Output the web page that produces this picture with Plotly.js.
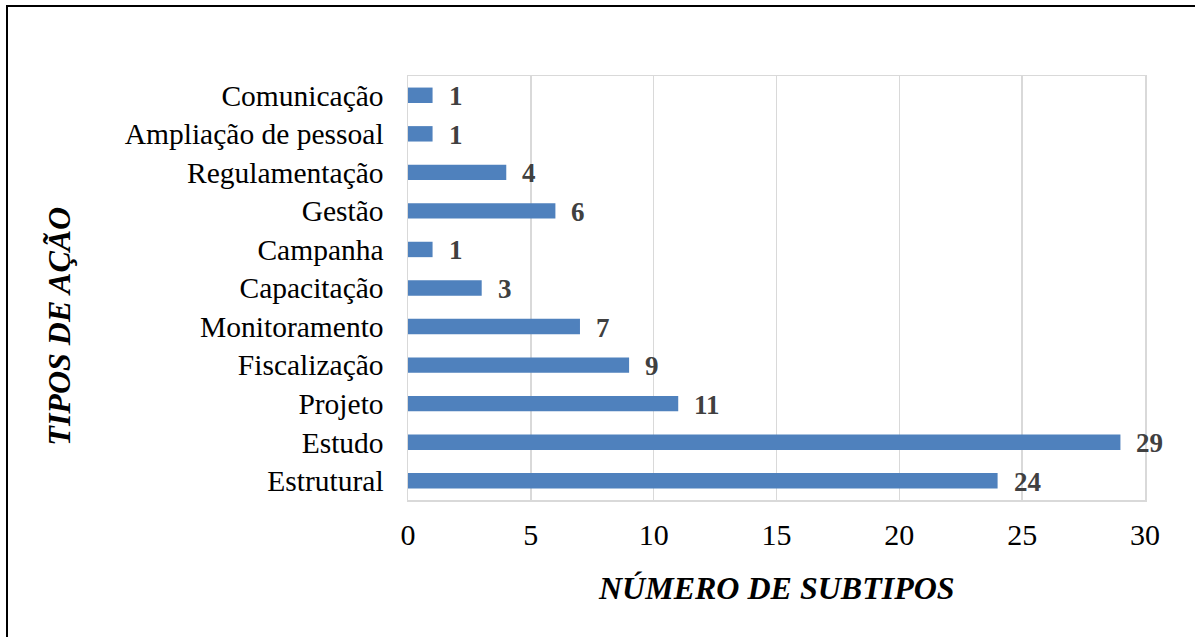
<!DOCTYPE html>
<html>
<head>
<meta charset="utf-8">
<script src="https://cdn.plot.ly/plotly-3.0.1.min.js"></script>
<style>
    body { margin: 0; background: #fff; }
    #frame { position: absolute; left: 0; top: 0; width: 1195px; height: 637px; }
    #chart { width: 1195px; height: 637px; }
    #borderTop { position: absolute; left: 6px; top: 5px; width: 1189px; height: 2px; background: #000; }
    #borderLeft { position: absolute; left: 6px; top: 5px; width: 2px; height: 632px; background: #000; }
</style>
</head>
<body>
<div id="frame">
    <div id="chart"></div>
    <div id="borderTop"></div>
    <div id="borderLeft"></div>
</div>
<script>
// bottom to top, as drawn by the category axis
const actionTypes = ['Estrutural', 'Estudo', 'Projeto', 'Fiscalização', 'Monitoramento', 'Capacitação',
    'Campanha', 'Gestão', 'Regulamentação', 'Ampliação de pessoal', 'Comunicação'];
const subtypeCounts = [24, 29, 11, 9, 7, 3, 1, 6, 4, 1, 1];

const xTicks = [0, 5, 10, 15, 20, 25, 30];

const serif = "'Liberation Serif'";
const barColor = 'rgb(79, 129, 189)';

const barData = [
    {
        x: subtypeCounts,
        y: actionTypes,
        type: 'bar',
        orientation: 'h',
        width: 0.4,
        marker: { color: barColor },
        hoverinfo: 'none'
    }
];

// value labels next to each bar
const valueLabels = [];
for (let i = 0; i < actionTypes.length; i++) {
    valueLabels.push({
        x: subtypeCounts[i],
        y: actionTypes[i],
        xref: 'x',
        yref: 'y',
        text: '<b>' + subtypeCounts[i] + '</b>',
        showarrow: false,
        xanchor: 'left',
        xshift: 14,
        yshift: -1,
        font: { family: serif, size: 27, color: '#404040' }
    });
}

valueLabels.push({
    x: 0.5, y: -0.255, xref: 'paper', yref: 'paper',
    text: '<b><i>NÚMERO DE SUBTIPOS</i></b>',
    showarrow: false,
    font: { family: serif, size: 32, color: '#000' }
});
valueLabels.push({
    x: -0.5, y: 0.41, xref: 'paper', yref: 'paper',
    text: '<b><i>TIPOS DE AÇÃO</i></b>',
    textangle: -90,
    showarrow: false,
    font: { family: serif, size: 32, color: '#000' }
});

const layout = {
    width: 1195,
    height: 637,
    margin: { l: 408, r: 50, t: 76, b: 137 },
    paper_bgcolor: '#fff',
    plot_bgcolor: '#fff',
    showlegend: false,
    xaxis: {
        range: [0, 30],
        tickvals: xTicks,
        ticktext: xTicks.map(String),
        showgrid: true,
        gridcolor: '#d9d9d9',
        gridwidth: 1.5,
        zeroline: false,
        showline: true,
        mirror: true,
        linecolor: '#d9d9d9',
        linewidth: 1.5,
        ticks: '',
        ticklabelstandoff: 7,
        tickfont: { family: serif, size: 30, color: '#000' }
    },
    yaxis: {
        type: 'category',
        categoryorder: 'array',
        categoryarray: actionTypes,
        range: [-0.5, 10.5],
        showgrid: false,
        zeroline: false,
        showline: true,
        mirror: true,
        linecolor: '#d9d9d9',
        linewidth: 1.5,
        ticks: '',
        ticklabelstandoff: 17,
        tickfont: { family: serif, size: 29.5, color: '#000' }
    },
    annotations: valueLabels
};

Plotly.newPlot('chart', barData, layout, { staticPlot: true });
</script>
</body>
</html>
